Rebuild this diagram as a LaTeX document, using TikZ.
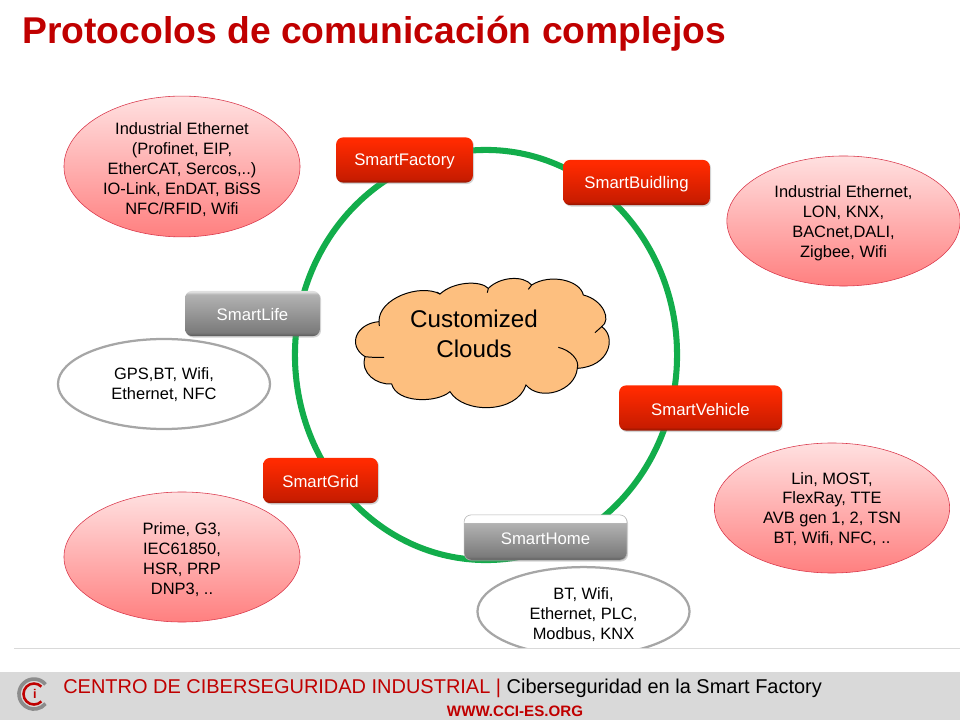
\documentclass[tikz,border=0pt]{standalone}
\usepackage{fontspec}
\setmainfont{Liberation Sans}
\usetikzlibrary{shapes.geometric,shadows}
\definecolor{titlered}{HTML}{C00000}
\definecolor{ringgreen}{HTML}{12AD4B}
\definecolor{cloudfill}{HTML}{FDBF7F}
\definecolor{rimred}{HTML}{D9364A}
\definecolor{boxtop}{HTML}{FF2A00}
\definecolor{boxlow}{HTML}{C81C00}
\definecolor{boxrim}{HTML}{8E1400}
\pgfdeclareverticalshading{redgloss}{100bp}{color(0bp)=(boxrim);color(25bp)=(boxrim);color(29bp)=(boxlow);color(71bp)=(boxtop);color(75bp)=(boxtop);color(100bp)=(boxtop)}
\pgfdeclareverticalshading{graygloss}{100bp}{color(0bp)=(black!65);color(25bp)=(black!65);color(29bp)=(black!52);color(71bp)=(black!30);color(74bp)=(black!12);color(75bp)=(black!12);color(100bp)=(black!12)}
\pgfdeclareverticalshading{homeshade}{100bp}{color(0bp)=(black!65);color(25bp)=(black!65);color(29bp)=(black!52);color(66bp)=(black!30);color(67bp)=(white);color(75bp)=(white);color(100bp)=(white)}
\newcommand{\gap}[1]{\rule{0pt}{#1pt}}
\tikzset{
  redbox/.style={shape=rectangle,rounded corners=5pt,minimum height=1.13cm,text=white,
    shading=redgloss,font=\fontsize{11.9}{14}\selectfont,
    execute at begin node=\rule{0pt}{10.3pt},
    drop shadow={shadow xshift=0.8pt,shadow yshift=-1pt,opacity=.35}},
  graybox/.style={redbox,shading=graygloss},
  redcloud/.style={shape=ellipse,draw=rimred,inner xsep=0pt,inner ysep=-4pt,align=center,
    top color=red!12,bottom color=red!50,font=\fontsize{11.7}{14.2}\selectfont},
  graycloud/.style={shape=ellipse,draw=black!35,line width=1.6pt,fill=white,inner sep=0pt,align=center,
    font=\fontsize{11.7}{14.2}\selectfont}
}
\begin{document}
\begin{tikzpicture}[x=0.025cm,y=-0.025cm]
        \useasboundingbox (0,0) rectangle (960,720);
        \node[anchor=base west,inner sep=0pt,text=titlered,font=\fontsize{26.5}{30}\selectfont\bfseries] (title) at (22,43.5) {Protocolos de comunicación complejos};

        \node[shape=ellipse,draw=ringgreen,line width=4.3pt,minimum width=9.55cm,minimum height=10.25cm,inner sep=0pt] (ring) at (486,355) {};

        \node[redcloud,minimum width=5.9cm,minimum height=3.52cm] (factorynet) at (182,166.5) {\gap{12.6}Industrial Ethernet\\(Profinet, EIP,\\EtherCAT, Sercos,..)\\IO-Link, EnDAT, BiSS\\NFC/RFID, Wifi};
        \node[redcloud,minimum width=5.83cm,minimum height=3.25cm] (buildingnet) at (843.5,221) {\gap{11.5}Industrial Ethernet,\\LON, KNX,\\BACnet,DALI,\\Zigbee, Wifi};
        \node[graycloud,minimum width=5.3cm,minimum height=2.25cm] (lifenet) at (164,384) {\gap{9.5}GPS,BT, Wifi,\\Ethernet, NFC};
        \node[redcloud,minimum width=5.88cm,minimum height=3.25cm] (vehiclenet) at (832,508) {\gap{10}Lin, MOST,\\FlexRay, TTE\\AVB gen 1, 2, TSN\\BT, Wifi, NFC, ..};
        \node[redcloud,minimum width=5.9cm,minimum height=3.25cm] (gridnet) at (182,557) {\gap{12.6}Prime, G3,\\IEC61850,\\HSR, PRP\\DNP3, ..};
        \node[graycloud,minimum width=5.3cm,minimum height=2.22cm] (homenet) at (583.5,611.5) {\gap{12.6}BT, Wifi,\\Ethernet, PLC,\\Modbus, KNX};

        \node[redbox,minimum width=3.42cm] (smartfactory) at (404.5,160) {SmartFactory};
        \node[redbox,minimum width=3.67cm] (smartbuilding) at (636.5,182.5) {SmartBuidling};
        \node[graybox,minimum width=3.37cm] (smartlife) at (252.5,313.5) {SmartLife};
        \node[redbox,minimum width=4.07cm] (smartvehicle) at (700.5,408) {SmartVehicle};
        \node[redbox,minimum width=2.87cm] (smartgrid) at (320.5,480.5) {SmartGrid};
        \node[graybox,shading=homeshade,draw=black!30,line width=0.4pt,minimum width=4.07cm] (smarthome) at (545.5,537.5) {SmartHome};

        % cloud in the middle
        \path[fill=cloudfill,draw=black,line width=0.7pt,shift={(340,270)},x=0.00833cm,y=-0.00833cm]
        (117,155) .. controls (115,85) and (240,40) .. (300,72)
        .. controls (340,35) and (420,30) .. (445,55)
        .. controls (480,20) and (550,15) .. (575,45)
        .. controls (630,10) and (720,30) .. (730,75)
        .. controls (790,90) and (815,150) .. (785,170)
        .. controls (830,200) and (810,290) .. (712,295)
        .. controls (705,365) and (600,395) .. (558,345)
        .. controls (530,432) and (370,432) .. (330,365)
        .. controls (290,400) and (170,400) .. (155,342)
        .. controls (110,345) and (60,310) .. (75,260)
        .. controls (20,225) and (50,160) .. (117,155)
        ;
        \path[draw=black,line width=0.7pt,shift={(340,270)},x=0.00833cm,y=-0.00833cm]
        (785,170) -- (765,188)
        (655,232) .. controls (690,240) and (720,270) .. (712,295)
        (75,260) .. controls (90,262) and (115,263) .. (132,262)
        (117,155) -- (118,168)
        (300,72) -- (290,66)
        (445,55) -- (442,68)
        (575,45) -- (565,58)
        ;
        \node[align=center,font=\fontsize{17.2}{21.5}\selectfont] (clouds) at (474,334) {Customized\\Clouds};

        % footer
        \node[shape=rectangle,fill=white,minimum width=24cm,minimum height=0.58cm,inner sep=0pt,anchor=north west] (blank) at (0,649) {};
        \node[shape=rectangle,fill=black!15,minimum width=24cm,minimum height=1.2cm,inner sep=0pt,anchor=north west] (footer) at (0,672) {};
        \node[shape=rectangle,fill=black!15,minimum width=23.65cm,minimum height=0.02cm,inner sep=0pt,anchor=west] (rule) at (14,648.5) {};
        \node[inner sep=0pt,text=titlered,font=\fontsize{9}{10}\selectfont\bfseries] (logoi) at (35,694) {i};
        \draw[black!45,line width=2.6pt] (45.5,684.4) arc[start angle=-40,end angle=-320,radius=15];
        \draw[titlered,line width=1.8pt] (41.4,686.6) arc[start angle=-45,end angle=-315,radius=10.5];
        \node[anchor=base west,inner sep=0pt,font=\fontsize{14.2}{16}\selectfont] (centro) at (63,693) {\textcolor{titlered}{CENTRO DE CIBERSEGURIDAD INDUSTRIAL |} Ciberseguridad en la Smart Factory};
        \node[anchor=base,inner sep=0pt,text=titlered,font=\fontsize{10.75}{12}\selectfont\bfseries] (web) at (515,716) {WWW.CCI-ES.ORG};
\end{tikzpicture}
\end{document}
